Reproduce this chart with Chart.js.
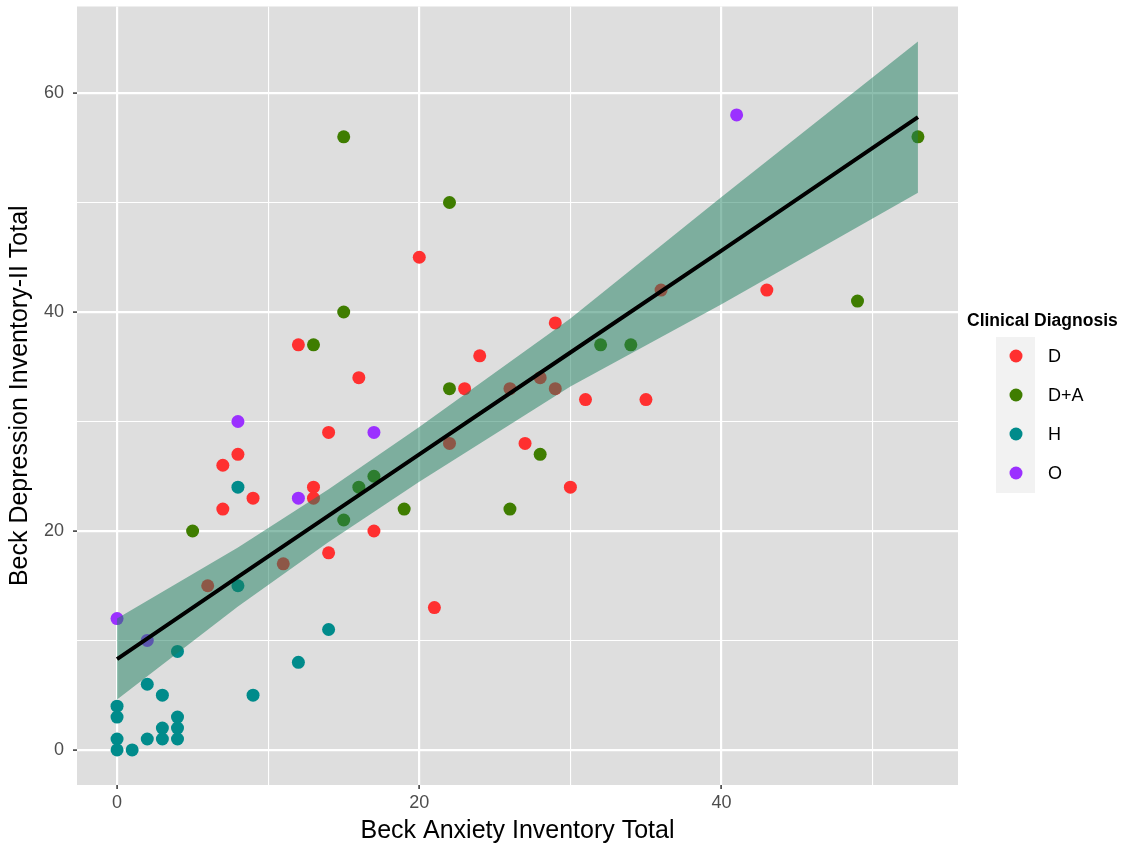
<!DOCTYPE html>
<html>
<head>
<meta charset="utf-8">
<title>Beck Anxiety vs Depression</title>
<script src="https://cdn.jsdelivr.net/npm/chart.js@4"></script>
<style>
  html, body { margin: 0; padding: 0; background: #fff; }
  #wrap { width: 1137px; height: 852px; position: relative; }
</style>
</head>
<body>
<div id="wrap"><canvas id="beckChart" width="1137" height="852"></canvas></div>
<script>
// ----- Data -----

const diagnosisLabels = ["D", "D+A", "H", "O"];
const diagnosisColors = ["#FF3030", "#3F7D00", "#008B8B", "#9B30FF"];

//D
const dAnxiety    = [20, 12, 16, 14, 7, 8, 7, 9, 13, 13, 14, 17, 21, 29, 24, 23, 27, 31, 35, 30, 43, 6, 11, 22, 26, 28, 29, 36];
const dDepression = [45, 37, 34, 29, 26, 27, 22, 23, 24, 23, 18, 20, 13, 39, 36, 33, 28, 32, 32, 24, 42, 15, 17, 28, 33, 34, 33, 42];

//D+A
const daAnxiety    = [15, 22, 15, 13, 5, 22, 32, 34, 28, 19, 26, 15, 16, 17, 53, 49];
const daDepression = [56, 50, 40, 37, 20, 33, 37, 37, 27, 22, 22, 21, 24, 25, 56, 41];

//H
const hAnxiety    = [8, 8, 4, 14, 12, 9, 2, 3, 0, 0, 0, 0, 1, 2, 3, 3, 4, 4, 4];
const hDepression = [24, 15, 9, 11, 8, 5, 6, 5, 4, 3, 1, 0, 0, 1, 2, 1, 3, 2, 1];

//O
const oAnxiety    = [0, 2, 8, 17, 12, 41];
const oDepression = [12, 10, 30, 29, 23, 58];

//linear fit and its confidence band
const fitX     = [0, 8, 14, 20, 30, 40, 53];
const fitY     = [8.3, 15.8, 21.4, 27.0, 36.3, 45.6, 57.8];
const bandLow  = [4.6, 13.1, 19.0, 24.5, 33.2, 40.7, 50.9];
const bandHigh = [12.0, 18.5, 23.8, 29.5, 39.4, 50.5, 64.7];

const xTicks = [0, 10, 20, 30, 40, 50];
const yTicks = [0, 10, 20, 30, 40, 50, 60];

const xTitle = "Beck Anxiety Inventory Total";
const yTitle = "Beck Depression Inventory-II Total";
const legendTitle = "Clinical Diagnosis";

// ----- Helpers -----

const FONT = '"Liberation Sans", Arial, Helvetica, sans-serif';
const toPoints = (xs, ys) => xs.map((x, i) => ({ x, y: ys[i] }));

const groups = [
  [dAnxiety, dDepression],
  [daAnxiety, daDepression],
  [hAnxiety, hDepression],
  [oAnxiety, oDepression],
];

const pointSets = groups.map(([xs, ys], i) => ({
  type: "scatter",
  label: diagnosisLabels[i],
  data: toPoints(xs, ys),
  backgroundColor: diagnosisColors[i],
  borderWidth: 0,
  pointRadius: 6.5,
  pointHoverRadius: 6.5,
  order: 10 + i,
}));

const bandSets = [
  {
    type: "line",
    label: "band-low",
    data: toPoints(fitX, bandLow),
    borderWidth: 0,
    borderColor: "rgba(0,0,0,0)",
    pointRadius: 0,
    fill: false,
    order: 2,
  },
  {
    type: "line",
    label: "band-high",
    data: toPoints(fitX, bandHigh),
    borderWidth: 0,
    borderColor: "rgba(0,0,0,0)",
    backgroundColor: "rgba(27,126,94,0.5)",
    pointRadius: 0,
    fill: "-1",
    order: 1,
  },
];

const fitSet = {
  type: "line",
  label: "fit",
  data: toPoints(fitX, fitY),
  borderColor: "#000",
  borderWidth: 4,
  pointRadius: 0,
  fill: false,
  order: 0,
};

// ----- Plugins -----

//grey panel behind the grid
const panelPlugin = {
  id: "panel",
  beforeDraw(chart) {
    const { ctx, chartArea: a } = chart;
    ctx.save();
    ctx.fillStyle = "#DEDEDE";
    ctx.fillRect(a.left, a.top, a.right - a.left, a.bottom - a.top);
    ctx.restore();
  },
};

//ggplot style legend on the right
const legendPlugin = {
  id: "diagnosisLegend",
  afterDraw(chart) {
    const ctx = chart.ctx;
    ctx.save();
    ctx.textBaseline = "middle";
    ctx.fillStyle = "#000";
    ctx.font = `bold 17.5px ${FONT}`;
    ctx.fillText(legendTitle, 967, 321);

    ctx.fillStyle = "#F2F2F2";
    ctx.fillRect(996, 337, 39, 39 * diagnosisLabels.length);

    diagnosisLabels.forEach((lab, i) => {
      const cy = 356 + i * 39;
      ctx.beginPath();
      ctx.arc(1016, cy, 6.5, 0, Math.PI * 2);
      ctx.fillStyle = diagnosisColors[i];
      ctx.fill();
      ctx.fillStyle = "#000";
      ctx.font = `18px ${FONT}`;
      ctx.fillText(lab, 1048, cy + 1);
    });
    ctx.restore();
  },
};

// ----- Chart -----

const isMajor = v => v % 20 === 0;

const gridFor = () => ({
  color: "#FFFFFF",
  lineWidth: c => (c.tick && isMajor(c.tick.value) ? 2.2 : 1.1),
  drawTicks: true,
  tickLength: 4,
  tickWidth: 1.5,
  tickColor: c => (c.tick && isMajor(c.tick.value) ? "#333333" : "rgba(0,0,0,0)"),
});

new Chart(document.getElementById("beckChart"), {
  type: "scatter",
  data: { datasets: [...pointSets, ...bandSets, fitSet] },
  plugins: [panelPlugin, legendPlugin],
  options: {
    responsive: false,
    animation: false,
    layout: { padding: { top: 0, right: 179, bottom: 0, left: 0 } },
    plugins: {
      legend: { display: false },
      tooltip: { enabled: false },
    },
    scales: {
      x: {
        type: "linear",
        min: -2.65,
        max: 55.65,
        afterBuildTicks: s => { s.ticks = xTicks.map(v => ({ value: v })); },
        afterFit: s => { s.height = 67; s.paddingLeft = 0; s.paddingRight = 0; },
        grid: gridFor(),
        border: { display: false },
        ticks: {
          color: "#4D4D4D",
          font: { family: FONT, size: 18 },
          padding: 3,
          callback: v => (isMajor(v) ? String(v) : ""),
        },
        title: {
          display: true,
          text: xTitle,
          color: "#000",
          font: { family: FONT, size: 25 },
          padding: { top: 0, bottom: 6 },
        },
      },
      y: {
        type: "linear",
        min: -3.2,
        max: 67.9,
        afterBuildTicks: s => { s.ticks = yTicks.map(v => ({ value: v })); },
        afterFit: s => { s.width = 77; s.paddingTop = 0; s.paddingBottom = 0; },
        grid: gridFor(),
        border: { display: false },
        ticks: {
          color: "#4D4D4D",
          font: { family: FONT, size: 18 },
          padding: 9,
          callback: v => (isMajor(v) ? String(v) : ""),
        },
        title: {
          display: true,
          text: yTitle,
          color: "#000",
          font: { family: FONT, size: 25 },
          padding: { top: 5, bottom: 0 },
        },
      },
    },
  },
});
</script>
</body>
</html>
